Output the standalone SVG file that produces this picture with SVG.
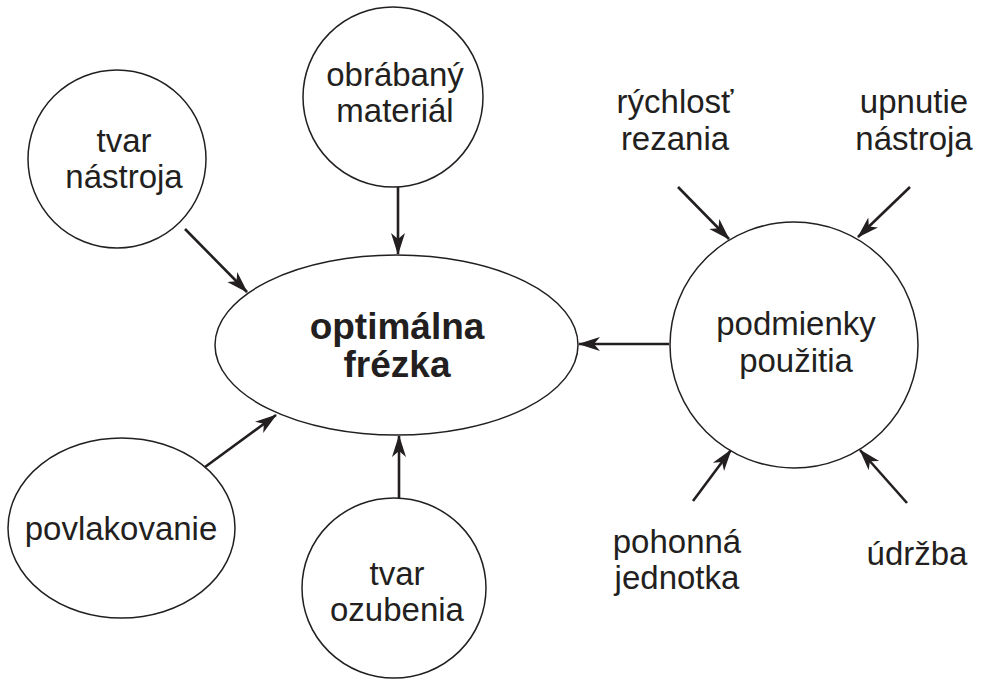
<svg xmlns="http://www.w3.org/2000/svg" width="983" height="680" viewBox="0 0 983 680">
<style>
.n{fill:#fff;stroke:#231f20;stroke-width:1.5}
.t{font-family:"Liberation Sans",Arial,sans-serif;font-size:33px;fill:#231f20;text-anchor:middle}
.b{font-weight:bold;font-size:37px}
.c{stroke:#231f20;stroke-width:2.6;fill:none;marker-end:url(#ah)}
</style>
<defs>
<marker id="ah" markerUnits="userSpaceOnUse" viewBox="0 0 22 16" refX="21" refY="8" markerWidth="22" markerHeight="16" orient="auto">
<path d="M0,1 L22,8 L0,15 L6,8 Z" fill="#231f20"/>
</marker>
</defs>
<rect width="983" height="680" fill="#fff"/>
<g id="connectors">
<line class="c" x1="185" y1="229" x2="247" y2="292"/>
<line class="c" x1="205" y1="467" x2="276" y2="415"/>
<line class="c" x1="398" y1="187" x2="398" y2="254"/>
<line class="c" x1="399" y1="498" x2="399" y2="436"/>
<line class="c" x1="669" y1="344" x2="579" y2="344"/>
<line class="c" x1="678" y1="187" x2="729" y2="239"/>
<line class="c" x1="910" y1="187" x2="858" y2="237"/>
<line class="c" x1="693" y1="501" x2="731" y2="450"/>
<line class="c" x1="907" y1="503" x2="860" y2="450"/>
</g>
<g id="optimalna">
<ellipse class="n" cx="396.5" cy="345" rx="181.5" ry="90"/>
<text class="t b" x="397" y="339">optimálna</text>
<text class="t b" x="397" y="377">frézka</text>
</g>
<g id="tvar-nastroja">
<ellipse class="n" cx="117" cy="159" rx="89" ry="89"/>
<text class="t" x="124" y="152">tvar</text>
<text class="t" x="124" y="188">nástroja</text>
</g>
<g id="obrabany-material">
<ellipse class="n" cx="393" cy="97" rx="90" ry="90"/>
<text class="t" x="395" y="86">obrábaný</text>
<text class="t" x="395" y="122">materiál</text>
</g>
<g id="povlakovanie">
<ellipse class="n" cx="121.5" cy="528" rx="113.5" ry="90"/>
<text class="t" x="121" y="540">povlakovanie</text>
</g>
<g id="tvar-ozubenia">
<ellipse class="n" cx="394" cy="588" rx="92" ry="90"/>
<text class="t" x="397" y="585">tvar</text>
<text class="t" x="397" y="621">ozubenia</text>
</g>
<g id="podmienky-pouzitia">
<ellipse class="n" cx="794" cy="345" rx="124" ry="123"/>
<text class="t" x="796" y="335">podmienky</text>
<text class="t" x="796" y="372">použitia</text>
</g>
<g id="rychlost-rezania">
<text class="t" x="675" y="113">rýchlosť</text>
<text class="t" x="675" y="150">rezania</text>
</g>
<g id="upnutie-nastroja">
<text class="t" x="914" y="113">upnutie</text>
<text class="t" x="914" y="150">nástroja</text>
</g>
<g id="pohonna-jednotka">
<text class="t" x="677" y="553">pohonná</text>
<text class="t" x="677" y="589">jednotka</text>
</g>
<g id="udrzba">
<text class="t" x="917" y="565">údržba</text>
</g>
</svg>
